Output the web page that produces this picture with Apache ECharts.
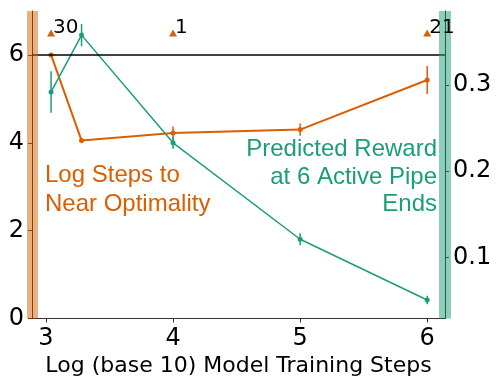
<!DOCTYPE html>
<html>
<head>
<meta charset="utf-8">
<script src="https://cdn.jsdelivr.net/npm/echarts@6/dist/echarts.min.js"></script>
<style>
  html, body { margin: 0; padding: 0; background: #fff; }
  #chart { width: 498px; height: 377px; }
</style>
</head>
<body>
<div id="chart"></div>
<script>
// log10 of training steps
const steps = [3.04, 3.28, 4, 5, 6]

// log steps to near optimality (left axis)
const optSteps = [6.0, 4.05, 4.22, 4.30, 5.43]
const optErr = [0, 0.06, 0.15, 0.14, 0.32]

// predicted reward at 6 active pipe ends (right axis)
const reward = [0.292, 0.358, 0.233, 0.121, 0.0505]
const rewardErr = [0.024, 0.013, 0.007, 0.007, 0.005]

// counts shown above the triangles
const countX = [3.04, 4, 6]
const countLabels = ['30', '1', '21']
const countLevel = 6.5

const xTicks = [3, 4, 5, 6]
const leftTicks = [0, 2, 4, 6]
const rightTicks = [0.1, 0.2, 0.3]

const ORANGE = '#d95f02'
const GREEN = '#1b9e77'
const tickFont = 'DejaVu Sans'

const errorBars = (color, yAxisIndex, vals, errs) => ({
  type: 'custom',
  yAxisIndex,
  z: 3,
  silent: true,
  data: steps.map((x, i) => [x, vals[i] - errs[i], vals[i] + errs[i]]),
  renderItem: (params, api) => {
    const lo = api.coord([api.value(0), api.value(1)])
    const hi = api.coord([api.value(0), api.value(2)])
    return {
      type: 'line',
      shape: { x1: lo[0], y1: lo[1], x2: hi[0], y2: hi[1] },
      style: { stroke: color, lineWidth: 1.5 }
    }
  }
})

const chart = echarts.init(document.getElementById('chart'))

chart.setOption({
  animation: false,
  grid: { left: 32, top: 11, width: 413, height: 307.5, outerBoundsMode: 'none', containLabel: false },
  xAxis: [
    {
      type: 'value',
      min: 2.89,
      max: 6.14,
      position: 'bottom',
      name: 'Log (base 10) Model Training Steps',
      nameLocation: 'middle',
      nameGap: 34,
      nameTextStyle: { fontFamily: tickFont, fontSize: 22, color: '#000' },
      axisLine: { show: true, onZero: false, lineStyle: { color: '#333', width: 1 } },
      axisTick: { show: true, length: 4, customValues: xTicks, lineStyle: { color: '#333' } },
      axisLabel: { customValues: xTicks, fontFamily: tickFont, fontSize: 24, color: '#000', margin: 8 },
      splitLine: { show: false }
    },
    {
      type: 'value',
      min: 2.89,
      max: 6.14,
      position: 'top',
      axisLine: { show: true, lineStyle: { color: '#333', width: 1 } },
      axisTick: { show: false },
      axisLabel: { show: false },
      splitLine: { show: false }
    }
  ],
  yAxis: [
    {
      type: 'value',
      min: 0,
      max: 7,
      position: 'left',
      z: 1,
      axisLine: { show: true, lineStyle: { color: '#222', width: 1 } },
      axisTick: { show: true, length: 4, customValues: leftTicks, lineStyle: { color: '#333' } },
      axisLabel: { customValues: leftTicks, fontFamily: tickFont, fontSize: 24, color: '#000', margin: 8, padding: [4, 0, 0, 0] },
      splitLine: { show: false }
    },
    {
      type: 'value',
      min: 0.029,
      max: 0.386,
      position: 'right',
      z: 1,
      axisLine: { show: true, lineStyle: { color: '#222', width: 1 } },
      axisTick: { show: true, length: 4, customValues: rightTicks, lineStyle: { color: '#333' } },
      axisLabel: { customValues: rightTicks, fontFamily: tickFont, fontSize: 24, color: '#000', margin: 8, padding: [4, 0, 0, 0] },
      splitLine: { show: false }
    },
    // translucent coloured bands over the side spines
    {
      type: 'value',
      min: 0,
      max: 7,
      position: 'left',
      z: 5,
      axisLine: { show: true, lineStyle: { color: 'rgba(217,95,2,0.5)', width: 11, cap: 'butt' } },
      axisTick: { show: false },
      axisLabel: { show: false },
      splitLine: { show: false }
    },
    {
      type: 'value',
      min: 0,
      max: 7,
      position: 'right',
      z: 5,
      axisLine: { show: true, lineStyle: { color: 'rgba(27,158,119,0.5)', width: 12, cap: 'butt' } },
      axisTick: { show: false },
      axisLabel: { show: false },
      splitLine: { show: false }
    }
  ],
  graphic: [
    {
      type: 'text',
      x: 45,
      y: 161,
      style: {
        text: 'Log Steps to\nNear Optimality',
        font: '24px "Liberation Sans"',
        fill: ORANGE,
        lineHeight: 29
      }
    },
    {
      type: 'text',
      x: 437,
      y: 136,
      style: {
        text: 'Predicted Reward\nat 6 Active Pipe\nEnds',
        font: '24px "Liberation Sans"',
        fill: GREEN,
        align: 'right',
        lineHeight: 27.5
      }
    }
  ],
  series: [
    {
      type: 'line',
      yAxisIndex: 0,
      data: steps.map((x, i) => [x, optSteps[i]]),
      color: ORANGE,
      lineStyle: { width: 2 },
      symbol: 'circle',
      symbolSize: 5,
      z: 3,
      markLine: {
        silent: true,
        symbol: 'none',
        label: { show: false },
        lineStyle: { color: '#000', width: 1.5, type: 'solid' },
        data: [{ yAxis: 6 }]
      }
    },
    errorBars(ORANGE, 0, optSteps, optErr),
    {
      type: 'line',
      yAxisIndex: 1,
      data: steps.map((x, i) => [x, reward[i]]),
      color: GREEN,
      lineStyle: { width: 1.5 },
      symbol: 'circle',
      symbolSize: 5,
      z: 3
    },
    errorBars(GREEN, 1, reward, rewardErr),
    {
      type: 'scatter',
      yAxisIndex: 0,
      symbol: 'triangle',
      symbolSize: [8, 7],
      itemStyle: { color: ORANGE, opacity: 1 },
      z: 6,
      data: countX.map((x, i) => ({ value: [x, countLevel], name: countLabels[i] })),
      label: {
        show: true,
        formatter: p => p.name,
        position: [6, 8],
        align: 'left',
        verticalAlign: 'bottom',
        fontFamily: tickFont,
        fontSize: 20,
        color: '#000'
      }
    }
  ]
})
</script>
</body>
</html>
